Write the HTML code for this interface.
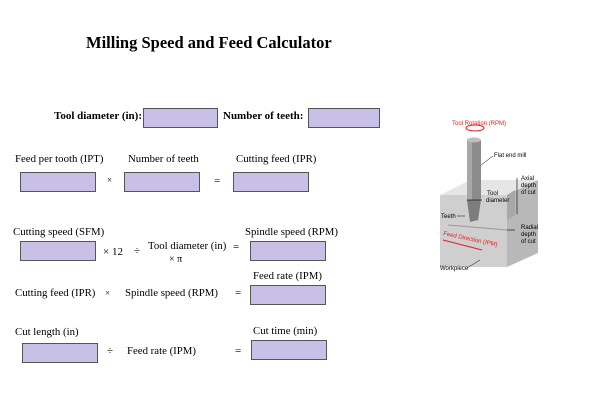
<!DOCTYPE html>
<html><head><style>
body{margin:0;width:600px;height:400px;background:#fff;position:relative;overflow:hidden;font-family:"Liberation Serif",serif;font-size:11px;color:#000}
.t{position:absolute;white-space:nowrap}
.b{position:absolute;background:#c8c0e6;border:1px solid #555;box-sizing:border-box;height:20px}
</style></head><body>
<div class="t" style="left:86px;top:33px;font-size:16.5px;font-weight:bold">Milling Speed and Feed Calculator</div>
<div class="t" style="left:54px;top:110px;font-weight:bold">Tool diameter (in):</div>
<div class="b" style="left:143px;top:108px;width:75px"></div>
<div class="t" style="left:223px;top:110px;font-weight:bold">Number of teeth:</div>
<div class="b" style="left:308px;top:108px;width:72px"></div>

<div class="t" style="left:15px;top:153px;font-size:10.8px">Feed per tooth (IPT)</div>
<div class="t" style="left:128px;top:153px;font-size:10.8px">Number of teeth</div>
<div class="t" style="left:236px;top:153px;font-size:10.8px">Cutting feed (IPR)</div>
<div class="b" style="left:20px;top:172px;width:76px"></div>
<div class="t" style="left:107px;top:175px;font-size:9px">×</div>
<div class="b" style="left:124px;top:172px;width:76px"></div>
<div class="t" style="left:214px;top:175px">=</div>
<div class="b" style="left:233px;top:172px;width:76px"></div>

<div class="t" style="left:13px;top:226px;font-size:10.8px">Cutting speed (SFM)</div>
<div class="t" style="left:245px;top:226px;font-size:10.8px">Spindle speed (RPM)</div>
<div class="b" style="left:20px;top:241px;width:76px"></div>
<div class="t" style="left:103px;top:246px">× 12</div>
<div class="t" style="left:134px;top:245px">÷</div>
<div class="t" style="left:148px;top:240px;font-size:10.8px">Tool diameter (in)</div>
<div class="t" style="left:169px;top:254px;font-size:10px">× π</div>
<div class="t" style="left:233px;top:241px">=</div>
<div class="b" style="left:250px;top:241px;width:76px"></div>

<div class="t" style="left:253px;top:270px;font-size:10.8px">Feed rate (IPM)</div>
<div class="t" style="left:15px;top:287px;font-size:10.8px">Cutting feed (IPR)</div>
<div class="t" style="left:105px;top:288px;font-size:9px">×</div>
<div class="t" style="left:125px;top:287px;font-size:10.8px">Spindle speed (RPM)</div>
<div class="t" style="left:235px;top:287px">=</div>
<div class="b" style="left:250px;top:285px;width:76px"></div>

<div class="t" style="left:15px;top:326px;font-size:10.8px">Cut length (in)</div>
<div class="t" style="left:253px;top:325px;font-size:10.8px">Cut time (min)</div>
<div class="b" style="left:22px;top:343px;width:76px"></div>
<div class="t" style="left:107px;top:345px">÷</div>
<div class="t" style="left:127px;top:345px;font-size:10.8px">Feed rate (IPM)</div>
<div class="t" style="left:235px;top:345px">=</div>
<div class="b" style="left:251px;top:340px;width:76px"></div>

<svg style="position:absolute;left:0;top:0" width="600" height="400" font-family="Liberation Sans,sans-serif" font-size="6">
<polygon points="440,195 470,180 538,180 507,195" fill="#e6e6e6"/>
<polygon points="440,195 507,195 507,267 440,267" fill="#cfcfcf"/>
<polygon points="507,195 538,180 538,253 507,267" fill="#b8b8b8"/>
<polygon points="507,195 515,190 515,215 507,220" fill="#a8a8a8"/>
<line x1="448" y1="225" x2="507" y2="230" stroke="#999" stroke-width="1"/>
<rect x="467" y="140" width="14" height="60" fill="#8c8c8c"/>
<rect x="467" y="140" width="5" height="60" fill="#a8a8a8"/>
<ellipse cx="474" cy="140" rx="7" ry="2.5" fill="#bdbdbd"/>
<polygon points="467,200 481,200 478,220 470,222" fill="#7d7d7d"/>
<ellipse cx="475" cy="128" rx="9" ry="3" fill="none" stroke="#e02020" stroke-width="1"/>
<text x="452" y="125" fill="#e02020">Tool Rotation (RPM)</text>
<text x="494" y="157">Flat end mill</text>
<line x1="481" y1="165" x2="493" y2="156" stroke="#000" stroke-width=".5"/>
<text x="487" y="195">Tool</text><text x="486" y="202">diameter</text>
<line x1="467" y1="200" x2="482" y2="200" stroke="#000" stroke-width=".6"/>
<text x="441" y="218">Teeth</text>
<line x1="457" y1="216" x2="465" y2="216" stroke="#000" stroke-width=".5"/>
<text x="521" y="180">Axial</text><text x="521" y="187">depth</text><text x="521" y="194">of cut</text>
<line x1="517" y1="178" x2="517" y2="214" stroke="#000" stroke-width=".6"/>
<text x="521" y="229">Radial</text><text x="521" y="236">depth</text><text x="521" y="243">of cut</text>
<line x1="507" y1="230" x2="515" y2="230" stroke="#000" stroke-width=".6"/>
<text x="443" y="235" fill="#e02020" transform="rotate(12 443 235)">Feed Direction (IPM)</text>
<line x1="443" y1="240" x2="482" y2="250" stroke="#e02020" stroke-width="1"/>
<text x="440" y="270">Workpiece</text>
<line x1="467" y1="268" x2="480" y2="260" stroke="#000" stroke-width=".5"/>
</svg>
</body></html>
